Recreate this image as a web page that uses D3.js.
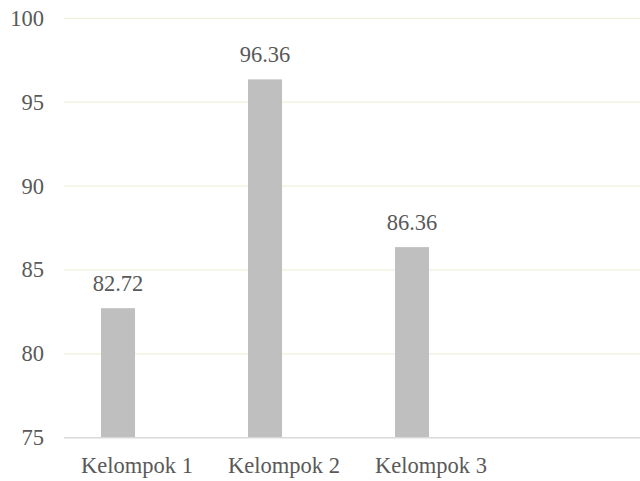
<!DOCTYPE html>
<html>
<head>
<meta charset="utf-8">
<script src="https://cdn.jsdelivr.net/npm/d3@7"></script>
<style>
  html, body { margin: 0; padding: 0; background: #fff; }
  svg { display: block; }
</style>
</head>
<body>
<div id="chart"></div>
<script>
//DATA
const categories = ["Kelompok 1", "Kelompok 2", "Kelompok 3"];
const series = ["Nilai", "Kosong"];
const values = [82.72, 96.36, 86.36];
const yTicks = [75, 80, 85, 90, 95, 100];

//INIT
const width = 640;
const height = 481;
const FONT = "'Liberation Serif', 'Times New Roman', serif";
const TEXT = "#595959";
const FS = "22.5px";

const svg = d3.select("#chart")
    .append("svg")
    .attr("width", width)
    .attr("height", height);

//SCALES
const y = d3.scaleLinear()
    .domain([75, 100])
    .range([437.7, 18.3]);

const x = d3.scaleBand()
    .domain(categories)
    .range([63.5, 504.5]);

// two slots per category, only the first one carries a bar
const x1 = d3.scaleBand()
    .domain(series)
    .range([0, x.bandwidth()])
    .paddingOuter(1.16)
    .align(0.475);

//GRID
svg.append("g")
    .selectAll("line")
    .data(yTicks.filter(d => d !== 75))
    .enter()
    .append("line")
    .attr("x1", 64)
    .attr("x2", width)
    .attr("y1", d => y(d))
    .attr("y2", d => y(d))
    .attr("stroke", "#eef0dc")
    .attr("stroke-width", 1.3);

//BARS
svg.append("g")
    .selectAll("rect")
    .data(values)
    .enter()
    .append("rect")
    .attr("x", (d, i) => x(categories[i]) + x1("Nilai"))
    .attr("y", d => y(d))
    .attr("width", x1.bandwidth())
    .attr("height", d => y(75) - y(d))
    .attr("fill", "#bfbfbf");

//AXIS LINE
svg.append("line")
    .attr("x1", 64)
    .attr("x2", width)
    .attr("y1", y(75))
    .attr("y2", y(75))
    .attr("stroke", "#d9d9d9")
    .attr("stroke-width", 1.5);

//Y LABELS
svg.append("g")
    .selectAll("text")
    .data(yTicks)
    .enter()
    .append("text")
    .attr("x", 44)
    .attr("y", d => y(d))
    .attr("text-anchor", "end")
    .attr("dominant-baseline", "central")
    .attr("font-family", FONT)
    .attr("font-size", FS)
    .attr("fill", TEXT)
    .text(d => d);

//X LABELS
svg.append("g")
    .selectAll("text")
    .data(categories)
    .enter()
    .append("text")
    .attr("x", d => x(d) + x.bandwidth() / 2)
    .attr("y", 473)
    .attr("text-anchor", "middle")
    .attr("font-family", FONT)
    .attr("font-size", FS)
    .attr("fill", TEXT)
    .text(d => d);

//VALUE LABELS
svg.append("g")
    .selectAll("text")
    .data(values)
    .enter()
    .append("text")
    .attr("x", (d, i) => x(categories[i]) + x1("Nilai") + x1.bandwidth() / 2)
    .attr("y", d => y(d) - 17)
    .attr("text-anchor", "middle")
    .attr("font-family", FONT)
    .attr("font-size", FS)
    .attr("fill", TEXT)
    .text(d => d.toFixed(2));
</script>
</body>
</html>
